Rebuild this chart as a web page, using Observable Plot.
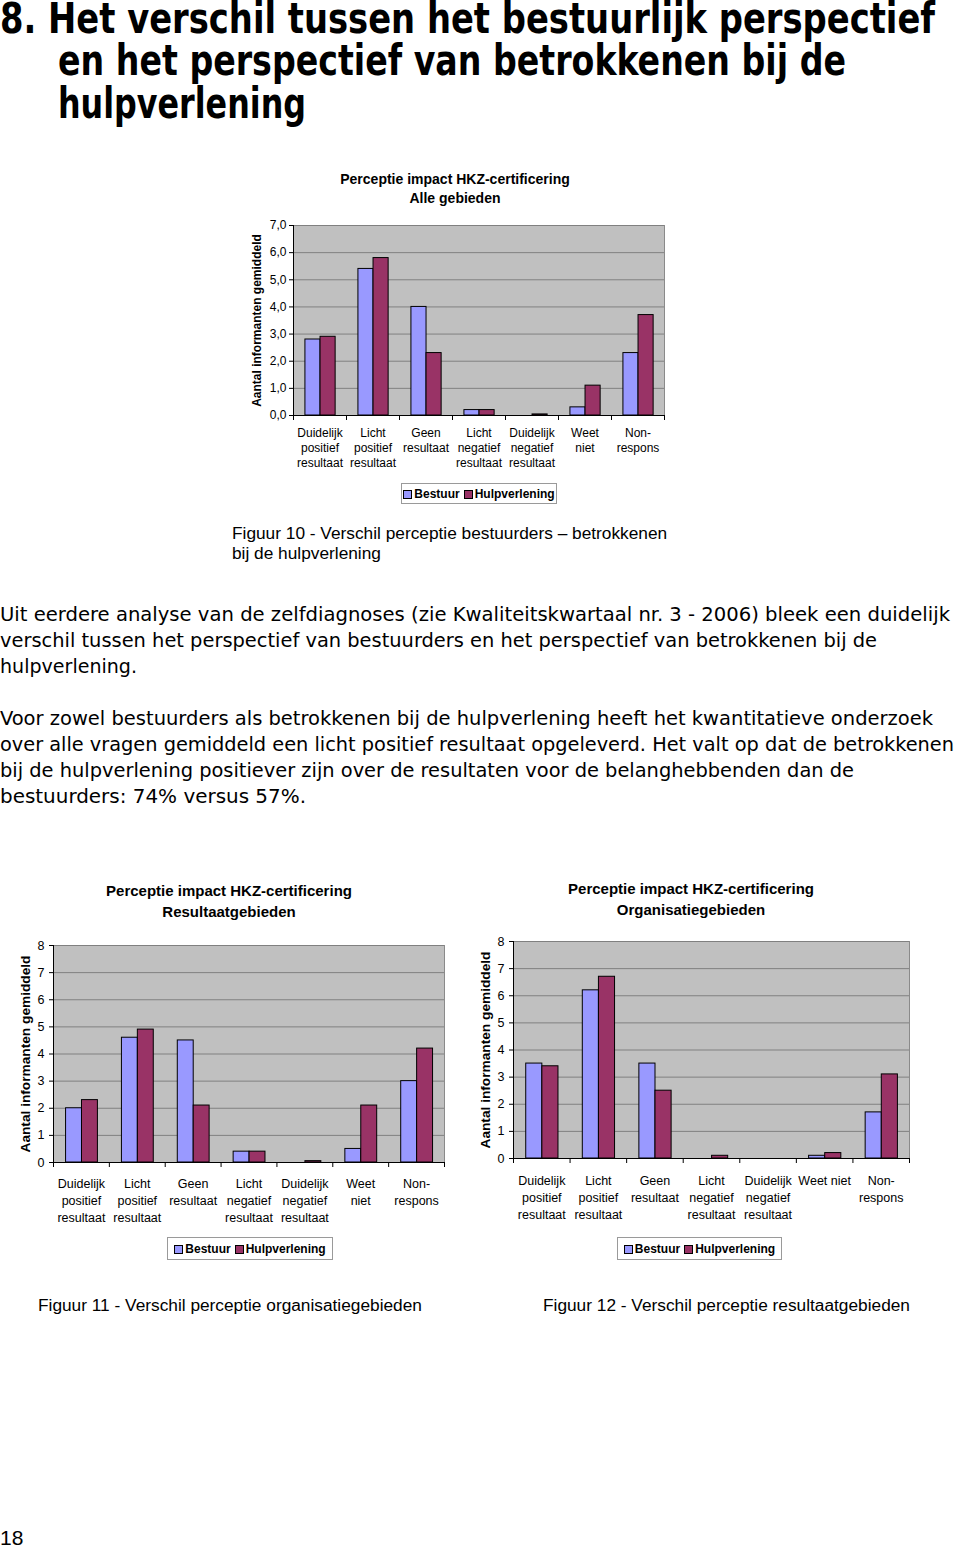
<!DOCTYPE html>
<html><head><meta charset="utf-8">
<script src="https://cdn.jsdelivr.net/npm/d3@7"></script>
<script src="https://cdn.jsdelivr.net/npm/@observablehq/plot@0.6"></script>
<style>
body{margin:0;background:#fff;width:960px;height:1548px;position:relative;overflow:hidden;font-family:"Liberation Sans",Arial,sans-serif;color:#000}
.abs{position:absolute;white-space:nowrap}
.h1{font-family:"DejaVu Sans Condensed","DejaVu Sans",sans-serif;font-weight:bold;font-size:42px;line-height:40px;transform-origin:0 0}
.body{font-family:"DejaVu Sans Condensed","DejaVu Sans",sans-serif;font-size:19px;line-height:24px;left:0;transform-origin:0 0}
.ctitle{font-weight:bold;text-align:center;transform:translateX(-50%)}
.legend{border:1px solid #9a9a9a;display:flex;align-items:center;justify-content:center;font-weight:bold;font-size:12px;box-sizing:border-box;gap:4px}
.sw{display:inline-block;width:7px;height:7px;border:1px solid #000;margin-right:2px;vertical-align:middle}
.cap{font-size:17.3px;line-height:20px}
</style></head><body>
<div id="page"></div>
<script>
const categories = ["Duidelijk positief resultaat","Licht positief resultaat","Geen resultaat","Licht negatief resultaat","Duidelijk negatief resultaat","Weet niet","Non-respons"];
const labelsStacked = ["Duidelijk\npositief\nresultaat","Licht\npositief\nresultaat","Geen\nresultaat","Licht\nnegatief\nresultaat","Duidelijk\nnegatief\nresultaat","Weet\nniet","Non-\nrespons"];
const labelsOrg = ["Duidelijk\npositief\nresultaat","Licht\npositief\nresultaat","Geen\nresultaat","Licht\nnegatief\nresultaat","Duidelijk\nnegatief\nresultaat","Weet niet","Non-\nrespons"];
const series = ["Bestuur","Hulpverlening"];
const colors = ["#9999ff","#993366"];
const yTicksAlle = [0,1,2,3,4,5,6,7];
const yTicksDeel = [0,1,2,3,4,5,6,7,8];
const yLabel = "Aantal informanten gemiddeld";

const alleBestuur = [2.8,5.4,4.0,0.2,0,0.3,2.3];
const alleHulp    = [2.9,5.8,2.3,0.2,0.04,1.1,3.7];
const resBestuur  = [2.0,4.6,4.5,0.4,0,0.5,3.0];
const resHulp     = [2.3,4.9,2.1,0.4,0.05,2.1,4.2];
const orgBestuur  = [3.5,6.2,3.5,0,0,0.1,1.7];
const orgHulp     = [3.4,6.7,2.5,0.1,0,0.2,3.1];

const page = document.getElementById("page");
function div(cls, html, css){const d=document.createElement("div");d.className="abs "+cls;d.innerHTML=html;Object.assign(d.style,css);page.appendChild(d);return d;}
function fit(el, target){const w=el.getBoundingClientRect().width;if(w>0){el.style.transform=`scaleX(${target/w})`;}return el;}

// heading
fit(div("h1","8. Het verschil tussen het bestuurlijk perspectief",{left:"0px",top:"-1px"}), 935);
fit(div("h1","en het perspectief van betrokkenen bij de",{left:"58px",top:"41px"}), 788);
fit(div("h1","hulpverlening",{left:"58px",top:"84px"}), 248);

// body text, one line per div, fitted to the reference line widths
const bodyLines = [
  ["Uit eerdere analyse van de zelfdiagnoses (zie Kwaliteitskwartaal nr. 3 - 2006) bleek een duidelijk", 602, 950],
  ["verschil tussen het perspectief van bestuurders en het perspectief van betrokkenen bij de", 628, 877],
  ["hulpverlening.", 654, 137],
  ["Voor zowel bestuurders als betrokkenen bij de hulpverlening heeft het kwantitatieve onderzoek", 706, 933],
  ["over alle vragen gemiddeld een licht positief resultaat opgeleverd. Het valt op dat de betrokkenen", 732, 954],
  ["bij de hulpverlening positiever zijn over de resultaten voor de belanghebbenden dan de", 758, 854],
  ["bestuurders: 74% versus 57%.", 784, 306]
];
for (const [t, top, wd] of bodyLines) fit(div("body", t, {top: top+"px"}), wd);

function chart(o){
  const rows = categories.map((c,i)=>({cat:c, bestuur:o.bestuur[i], hulp:o.hulp[i]}));
  const bw = (o.width - o.ml - o.mr)/categories.length;
  const off = bw*0.225, w = bw*0.285;
  const last = categories[categories.length-1];
  return Plot.plot({
    width:o.width, height:o.height,
    marginLeft:o.ml, marginTop:o.mt, marginRight:o.mr, marginBottom:o.mb,
    style:{fontFamily:"'Liberation Sans',Arial,sans-serif", fontSize:o.fontSize+"px", color:"#000", background:"transparent", overflow:"visible"},
    x:{type:"band", domain:categories, padding:0, round:false},
    y:{domain:[0, o.ticks[o.ticks.length-1]]},
    marks:[
      Plot.frame({fill:"#c0c0c0", stroke:"#8a8a8a"}),
      Plot.ruleY(o.ticks.slice(1), {stroke:"#808080"}),
      Plot.barY(rows, {x:"cat", y:"bestuur", fill:colors[0], stroke:"#000", strokeWidth:1, insetLeft:off, insetRight:bw-off-w}),
      Plot.barY(rows, {x:"cat", y:"hulp", fill:colors[1], stroke:"#000", strokeWidth:1, insetLeft:off+w, insetRight:bw-off-2*w}),
      Plot.ruleY([0], {stroke:"#000"}),
      Plot.ruleX(categories, {x:d=>d, dx:-bw/2, y1:0, y2:0, insetBottom:-5, stroke:"#000"}),
      Plot.ruleX([last], {x:d=>d, dx:bw/2, y1:0, y2:0, insetBottom:-5, stroke:"#000"}),
      Plot.ruleX([categories[0]], {x:d=>d, dx:-bw/2, stroke:"#000"}),
      Plot.axisY({ticks:o.ticks, tickFormat:o.fmt, tickSize:o.yts, tickPadding:o.ytp, label:null}),
      Plot.axisX({tickSize:0, tickPadding:o.xtp, tickFormat:d=>o.labels[categories.indexOf(d)], label:null, lineHeight:o.lh}),
      Plot.text([yLabel], {text:d=>d, frameAnchor:"left", textAnchor:"middle", dx:-o.ylo, rotate:-90, fontWeight:"bold", fontSize:o.yls})
    ]
  });
}
function place(svg, left, top){const w=document.createElement("div");w.className="abs";w.style.left=left+"px";w.style.top=top+"px";w.appendChild(svg);page.appendChild(w);}
function legend(left, top, width, height){
  div("legend", series.map((s,i)=>`<span><span class="sw" style="background:${colors[i]}"></span>${s}</span>`).join(""), {left:left+"px", top:top+"px", width:width+"px", height:height+"px"});
}

// Top chart: Alle gebieden
div("ctitle","Perceptie impact HKZ-certificering<br>Alle gebieden",{left:"455px",top:"170px",fontSize:"14px",lineHeight:"19px"});
place(chart({bestuur:alleBestuur, hulp:alleHulp, labels:labelsStacked, ticks:yTicksAlle, fmt:d=>d.toFixed(1).replace(".",","),
  width:434, height:265, ml:53, mt:10, mr:10, mb:65, fontSize:12, lh:1.25, xtp:11, yts:4, ytp:3, ylo:36, yls:12}), 240, 215);
legend(401, 483, 156, 21);
div("cap","Figuur 10 - Verschil perceptie bestuurders – betrokkenen<br>bij de hulpverlening",{left:"232px",top:"523px"});

// Bottom left: Resultaatgebieden
div("ctitle","Perceptie impact HKZ-certificering<br>Resultaatgebieden",{left:"229px",top:"880px",fontSize:"15px",lineHeight:"21px"});
place(chart({bestuur:resBestuur, hulp:resHulp, labels:labelsStacked, ticks:yTicksDeel, fmt:d=>String(d),
  width:454, height:297, ml:53, mt:10, mr:10, mb:70, fontSize:12.5, lh:1.36, xtp:13, yts:4, ytp:5, ylo:28, yls:13.7}), 0, 935);
legend(167, 1237, 166, 23);
div("cap","Figuur 11 - Verschil perceptie organisatiegebieden",{left:"38px",top:"1295px"});

// Bottom right: Organisatiegebieden
div("ctitle","Perceptie impact HKZ-certificering<br>Organisatiegebieden",{left:"691px",top:"878px",fontSize:"15px",lineHeight:"21px"});
place(chart({bestuur:orgBestuur, hulp:orgHulp, labels:labelsOrg, ticks:yTicksDeel, fmt:d=>String(d),
  width:459, height:297, ml:53, mt:10, mr:10, mb:70, fontSize:12.5, lh:1.36, xtp:14, yts:4, ytp:5, ylo:28, yls:13.7}), 460, 931);
legend(617, 1237, 165, 23);
div("cap","Figuur 12 - Verschil perceptie resultaatgebieden",{left:"543px",top:"1295px"});

div("","18",{left:"0px",top:"1526px",fontSize:"21px"});
</script>
</body></html>
